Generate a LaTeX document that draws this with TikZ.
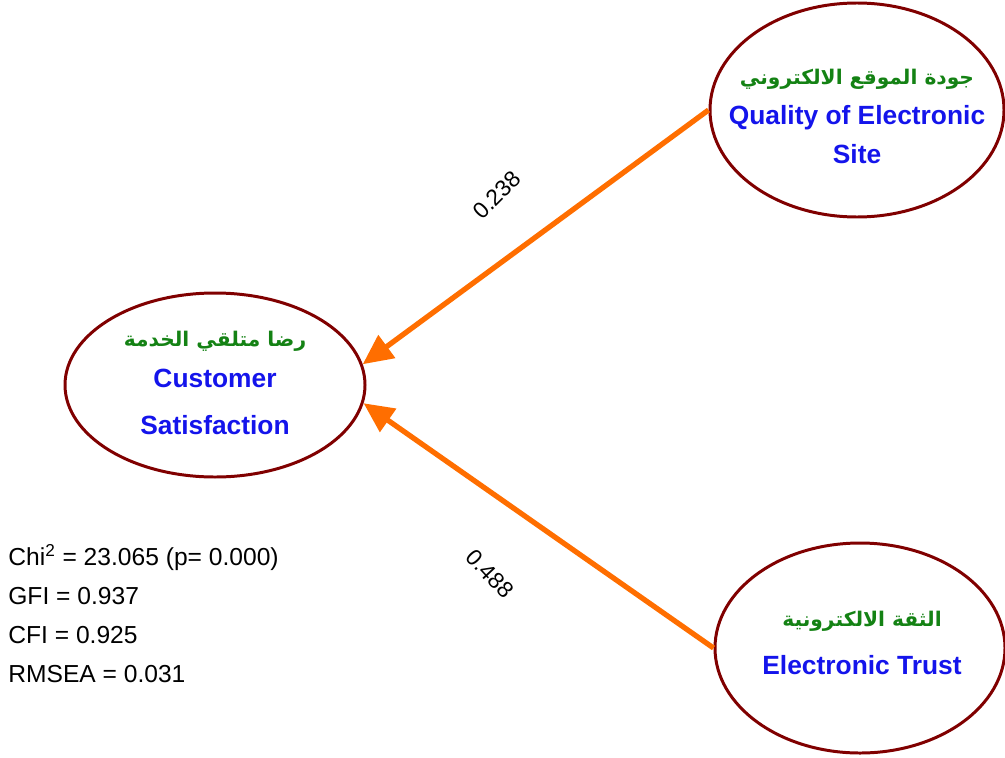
\documentclass[tikz,border=0pt]{standalone}
\usepackage{fontspec}
\setmainfont{Liberation Sans}
\newfontfamily\arabicfont[Script=Arabic]{DejaVu Sans}
\TeXXeTstate=1
\usetikzlibrary{shapes.geometric,arrows.meta}
\definecolor{ovalred}{RGB}{128,0,0}
\definecolor{pathorange}{RGB}{255,110,0}
\definecolor{argreen}{RGB}{20,130,20}
\definecolor{enblue}{RGB}{20,20,235}
\tikzset{
  latent/.style={ellipse, draw=ovalred, line width=1.7pt, inner sep=0pt},
  latent text/.style={align=center, inner sep=0pt, font=\fontsize{15}{23}\selectfont},
  path arrow/.style={draw=pathorange, line width=3pt, -{Triangle[length=0.6cm,width=0.55cm]}},
  coef/.style={font=\fontsize{13}{15}\selectfont},
}
\newcommand{\arlabel}[1]{{\color{argreen}\arabicfont\bfseries\fontsize{11.5}{16}\selectfont\beginR #1\endR}}
\newcommand{\enlabel}[1]{{\color{enblue}\bfseries #1}}

\begin{document}
\begin{tikzpicture}
	\path [use as bounding box] (0,0) rectangle (20.1,15.14);
	% latent variables
	\node[latent, minimum width=5.88cm, minimum height=4.28cm] (qual) at (17.14,12.94) {};
	\node[latent, minimum width=6.0cm, minimum height=3.68cm] (cust) at (4.30,7.44) {};
	\node[latent, minimum width=5.8cm, minimum height=4.2cm] (trust) at (17.2,2.18) {};
	\node[latent text] (qualtext) at (17.14,12.82)
		{\arlabel{جودة الموقع الالكتروني}\\ \enlabel{Quality of Electronic}\\[-1pt] \enlabel{Site}};
	\node[latent text] (custtext) at (4.30,7.48)
		{\arlabel{رضا متلقي الخدمة}\\ \enlabel{Customer}\\[4pt] \enlabel{Satisfaction}};
	\node[latent text] (trusttext) at (17.24,2.28)
		{\arlabel{الثقة الالكترونية}\\[4pt] \enlabel{Electronic Trust}};
	% structural paths
	\draw[path arrow] (qual.west) -- (cust.8);
	\draw[path arrow] (trust.west) -- (cust.-7);
	\node[coef, rotate=45] (c1) at (9.94,11.24) {0.238};
	\node[coef, rotate=-47] (c2) at (9.80,3.66) {0.488};
	% fit indices
	\node[anchor=north west, align=left, inner sep=0pt, font=\fontsize{14}{22.2}\selectfont] (fit) at (0.16,4.26)
		{Chi\textsuperscript{2} = 23.065 (p= 0.000)\\ GFI = 0.937\\ CFI = 0.925\\ RMSEA = 0.031};
\end{tikzpicture}
\end{document}
